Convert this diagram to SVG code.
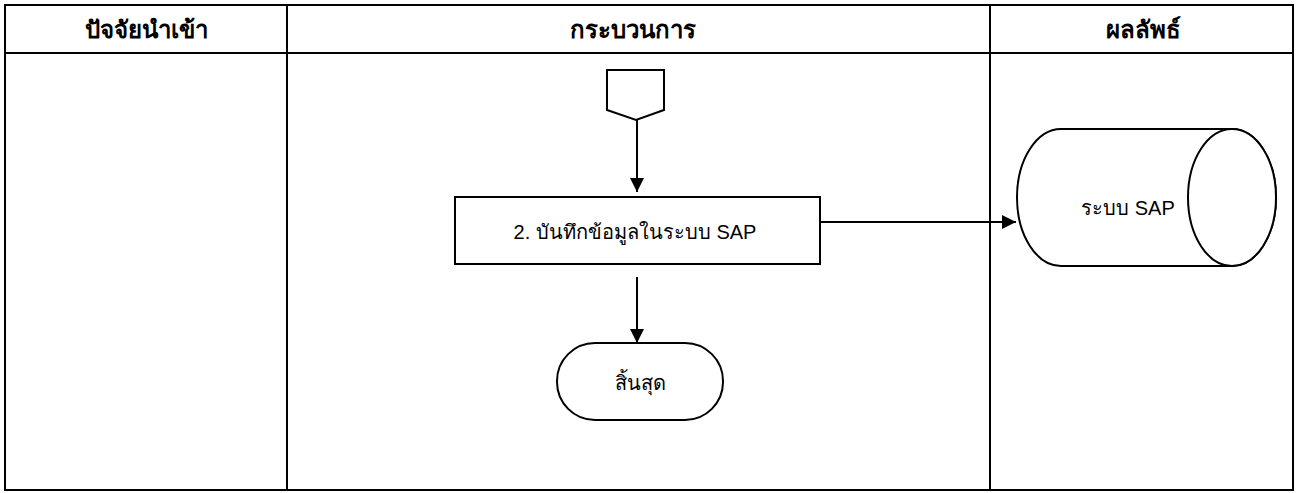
<svg xmlns="http://www.w3.org/2000/svg" width="1298" height="493" viewBox="0 0 1298 493">
<style>
.grid{fill:none;stroke:#000;stroke-width:2}
.shape{fill:#fff;stroke:#000;stroke-width:2}
.edge{fill:none;stroke:#000;stroke-width:2}
.hdr{font-family:"Liberation Sans","Noto Sans",sans-serif;font-size:24px;font-weight:bold;text-anchor:middle;fill:#000}
.lbl{font-family:"Liberation Sans","Noto Sans",sans-serif;font-size:20px;text-anchor:middle;fill:#000}
</style>
<defs>
<marker id="arr" viewBox="0 0 14 14" refX="14" refY="7" markerWidth="14" markerHeight="14" markerUnits="userSpaceOnUse" orient="auto">
<path d="M0,0 L14,7 L0,14 Z" fill="#000"/>
</marker>
</defs>
<rect fill="#fff" x="0" y="0" width="1298" height="493"/>
<g id="table">
<rect class="grid" x="5" y="5" width="1288" height="485"/>
<line class="grid" x1="5" y1="53" x2="1293" y2="53"/>
<line class="grid" x1="287" y1="5" x2="287" y2="490"/>
<line class="grid" x1="990" y1="5" x2="990" y2="490"/>
<text class="hdr" x="146" y="38">ปัจจัยนำเข้า</text>
<text class="hdr" x="633" y="38">กระบวนการ</text>
<text class="hdr" x="1143" y="38">ผลลัพธ์</text>
</g>
<g id="connectors">
<line class="edge" x1="637" y1="120" x2="637" y2="192" marker-end="url(#arr)"/>
<line class="edge" x1="637" y1="277" x2="637" y2="343" marker-end="url(#arr)"/>
<line class="edge" x1="820" y1="222" x2="1016" y2="222" marker-end="url(#arr)"/>
</g>
<g id="offpage">
<path class="shape" d="M607,70 L664,70 L664,110 L636,120 L607,110 Z"/>
</g>
<g id="step2">
<rect class="shape" x="455" y="197" width="365" height="67"/>
<text class="lbl" x="635" y="239">2. บันทึกข้อมูลในระบบ SAP</text>
</g>
<g id="end">
<rect class="shape" x="557" y="343" width="166" height="77" rx="38" ry="38"/>
<text class="lbl" x="640" y="390">สิ้นสุด</text>
</g>
<g id="sap">
<path class="shape" d="M1061,129 L1232,129 A44,68.5 0 0 1 1232,266 L1061,266 A44,68.5 0 0 1 1061,129 Z"/>
<ellipse class="shape" cx="1232" cy="197.5" rx="44" ry="68.5"/>
<text class="lbl" x="1128" y="215">ระบบ SAP</text>
</g>
</svg>
